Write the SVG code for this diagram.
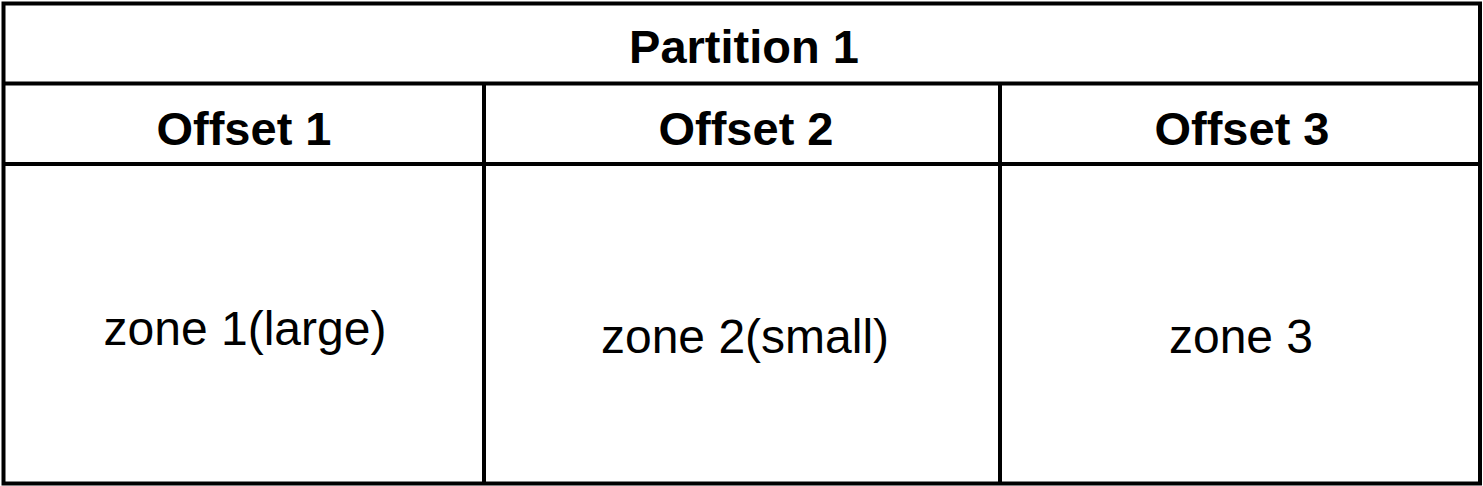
<svg xmlns="http://www.w3.org/2000/svg" width="1483" height="486" viewBox="0 0 1483 486">
<style>
.ln{stroke:#000;stroke-width:4;fill:none}
.h{font-family:"Liberation Sans",Arial,sans-serif;font-weight:bold;font-size:47px;text-anchor:middle;fill:#000}
.t{font-family:"Liberation Sans",Arial,sans-serif;font-size:48px;text-anchor:middle;fill:#000}
</style>
<rect width="1483" height="486" fill="#fff"/>
<g id="table">
<rect class="ln" x="3.5" y="3.5" width="1476.5" height="480"/>
<line class="ln" x1="3.5" y1="83.5" x2="1480" y2="83.5"/>
<line class="ln" x1="3.5" y1="164" x2="1480" y2="164"/>
<line class="ln" x1="484" y1="83.5" x2="484" y2="483.5"/>
<line class="ln" x1="1000" y1="83.5" x2="1000" y2="483.5"/>
</g>
<g id="partition"><text class="h" x="744" y="63">Partition 1</text></g>
<g id="offset1"><text class="h" x="244" y="145">Offset 1</text></g>
<g id="offset2"><text class="h" x="746" y="145">Offset 2</text></g>
<g id="offset3"><text class="h" x="1242" y="145">Offset 3</text></g>
<g id="zone1"><text class="t" x="245" y="345">zone 1(large)</text></g>
<g id="zone2"><text class="t" x="745" y="353">zone 2(small)</text></g>
<g id="zone3"><text class="t" x="1241" y="353">zone 3</text></g>
</svg>
